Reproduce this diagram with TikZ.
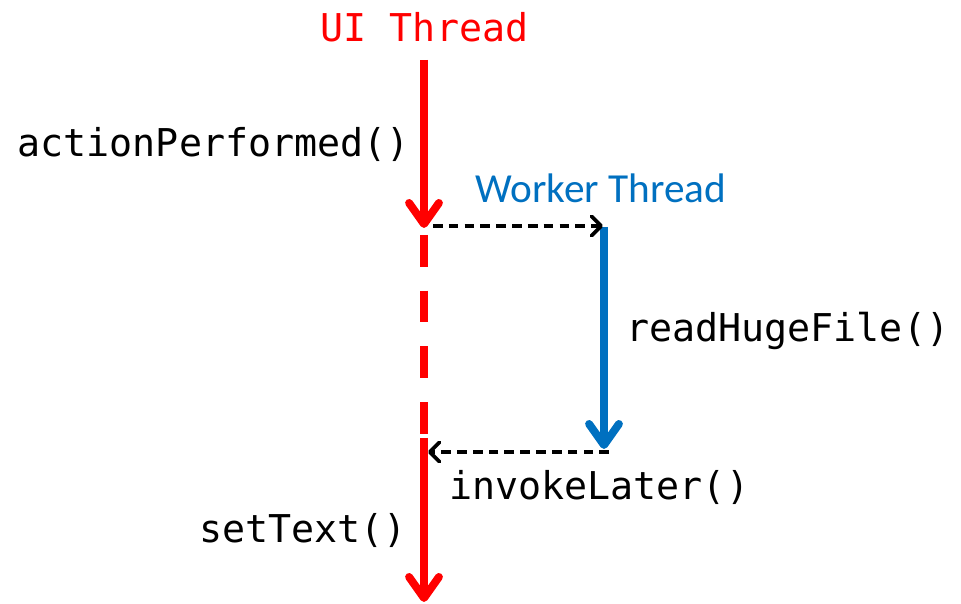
\documentclass[tikz,border=0pt]{standalone}
\usepackage{fontspec}
\setmonofont{DejaVu Sans Mono}
\newfontfamily\carlito{Carlito}
\usetikzlibrary{arrows.meta}
\definecolor{UIred}{HTML}{FF0000}
\definecolor{WKblue}{HTML}{0070C0}
\newcommand\codefont{\fontsize{21.8pt}{26pt}\selectfont\ttfamily}
\newcommand\wkfont{\fontsize{23.5pt}{28pt}\selectfont\carlito}

\begin{document}
\begin{tikzpicture}[x=0.02cm,y=-0.02cm,
    code/.style={font=\codefont,inner sep=0pt},
    uiline/.style={UIred,line width=4.5pt},
    wkline/.style={WKblue,line width=4.5pt},
    head/.style={-{Straight Barb[round,length=12pt,width=17pt]}},
    call/.style={black,line width=2.1pt,dash pattern=on 5.5pt off 3.5pt,
                 -{Straight Barb[round,length=5.5pt,width=11pt]}},
  ]
  \useasboundingbox (0,0) rectangle (961,604);

  % thread titles
  \node[code,UIred,anchor=base] (ui) at (424.5,42) {UI Thread};
  \node[font=\wkfont,WKblue,inner sep=0pt,anchor=base] (wk) at (601,203) {Worker Thread};

  \coordinate (uistart) at (424,60);
  \coordinate (fork)    at (424,228);
  \coordinate (waitbeg) at (424,235);
  \coordinate (waitend) at (424,435);
  \coordinate (join)    at (424,438);
  \coordinate (uiend)   at (424,602);
  \coordinate (wkstart) at (604,227);
  \coordinate (wkend)   at (604,449);

  % UI thread
  \draw[uiline,head] (uistart) -- (fork);
  \draw[uiline,dash pattern=on 18.1pt off 13.6pt] (waitbeg) -- (waitend);
  \draw[uiline,head] (join) -- (uiend);

  % worker thread
  \draw[wkline,head] (wkstart) -- (wkend);

  % hand-over between threads
  \coordinate (fwd0) at (433,226);
  \coordinate (fwd1) at (603,226);
  \coordinate (bck0) at (609,452);
  \coordinate (bck1) at (428,452);
  \draw[call] (fwd0) -- (fwd1);
  \draw[call] (bck0) -- (bck1);

  \node[code,anchor=base east] (act)  at (410,157) {actionPerformed()};
  \node[code,anchor=base west] (read) at (626,342) {readHugeFile()};
  \node[code,anchor=base west] (inv)  at (449,500) {invokeLater()};
  \node[code,anchor=base east] (set)  at (407,543) {setText()};
\end{tikzpicture}
\end{document}
